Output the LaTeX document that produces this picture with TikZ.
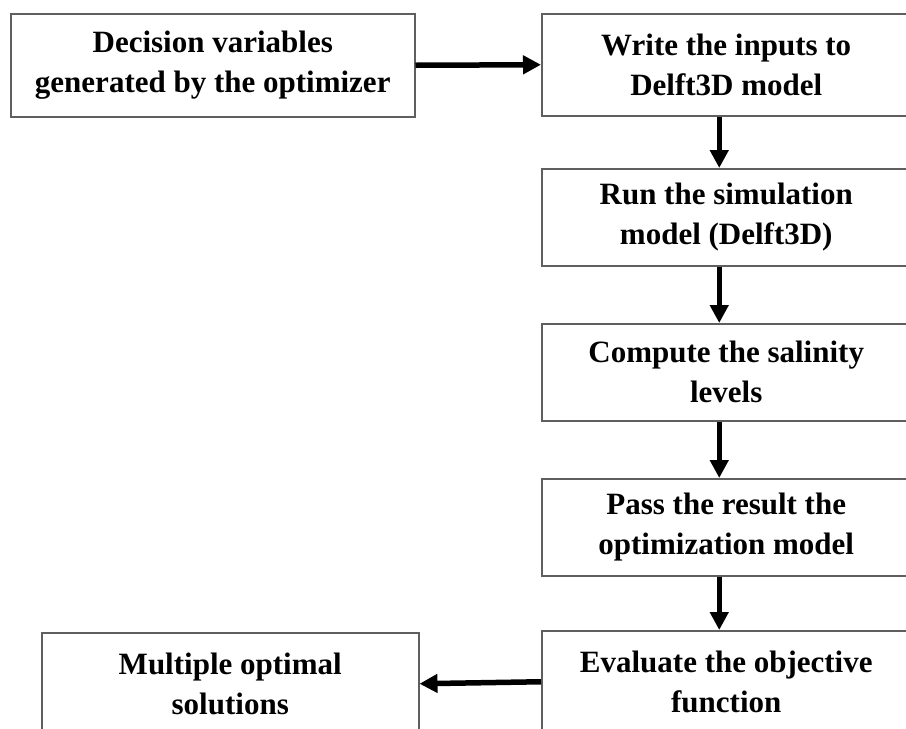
\documentclass[tikz,border=0pt]{standalone}
\usepackage{fontspec}
\setmainfont{Liberation Serif}
\usetikzlibrary{arrows.meta,positioning}
\definecolor{boxgrey}{RGB}{95,95,95}

\begin{document}
\begin{tikzpicture}[x=1pt, y=-1pt,
    stage/.style={rectangle, draw=boxgrey, line width=1.5pt, fill=white,
                  minimum width=369pt, minimum height=97pt, align=center,
                  font=\fontsize{31}{40}\selectfont\bfseries, anchor=north west},
    flow/.style={line width=5.5pt, -{Triangle[length=18pt,width=18pt]}}
]
    \useasboundingbox (0,0) rectangle (906,729);

    % top row
    \node[stage, minimum width=404pt, minimum height=103pt] (decvar) at (10,13)
        {Decision variables\\generated by the optimizer};
    \node[stage, minimum height=102pt] (inputs) at (541,13)
        {Write the inputs to\\Delft3D model};

    % right column
    \node[stage] (runsim) at (541,168) {Run the simulation\\model (Delft3D)};
    \node[stage] (salinity) at (541,323) {Compute the salinity\\levels};
    \node[stage] (passres) at (541,478) {Pass the result the\\optimization model};
    \node[stage, minimum height=102pt] (evalobj) at (541,630) {Evaluate the objective\\function};

    % bottom left
    \node[stage, minimum width=377pt, minimum height=102pt] (multopt) at (41,632)
        {Multiple optimal\\solutions};

    % connectors
    \draw[flow] (decvar.east) -- (inputs.west);
    \draw[flow] ([xshift=-7pt]inputs.south) -- ([xshift=-7pt]runsim.north);
    \draw[flow] ([xshift=-7pt]runsim.south) -- ([xshift=-7pt]salinity.north);
    \draw[flow] ([xshift=-7pt]salinity.south) -- ([xshift=-7pt]passres.north);
    \draw[flow] ([xshift=-7pt]passres.south) -- ([xshift=-7pt]evalobj.north);
    \draw[flow] (evalobj.west) -- (multopt.east);
\end{tikzpicture}
\end{document}
